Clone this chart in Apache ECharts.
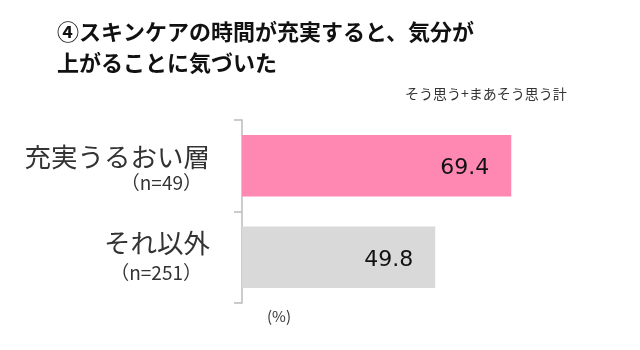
<!DOCTYPE html>
<html><head><meta charset="utf-8">
<script src="https://cdn.jsdelivr.net/npm/echarts@6/dist/echarts.min.js"></script>
<style>html,body{margin:0;padding:0;background:#fff}#c{width:640px;height:350px}</style>
</head><body><div id="c"></div>
<script>
const categories = ['充実うるおい層', 'それ以外'];
const sampleSizes = ['（n=49）', '（n=251）'];
const values = [69.4, 49.8];
const barColors = ['#FF88B3', '#D9D9D9'];
const titleText = '④スキンケアの時間が充実すると、気分が\n上がることに気づいた';
const subText = 'そう思う+まあそう思う計';

const font = '"Noto Sans CJK JP", "Noto Sans", sans-serif';
const chart = echarts.init(document.getElementById('c'));
chart.setOption({
  animation: false,
  textStyle: { fontFamily: font },
  title: [
    { text: titleText, left: 52, top: 11,
      textStyle: { fontSize: 22, fontWeight: 'bold', color: '#111', lineHeight: 31, fontFamily: font } },
    { text: subText, left: 400, top: 82,
      textStyle: { fontSize: 14, fontWeight: 'normal', color: '#333', fontFamily: font } },
    { text: '(%)', left: 262, top: 304,
      textStyle: { fontSize: 15, fontWeight: 'normal', color: '#333', fontFamily: font } }
  ],
  grid: { left: 242, right: 10, top: 120, height: 183, containLabel: false },
  xAxis: { type: 'value', min: 0, max: 100, show: false },
  yAxis: {
    type: 'category', inverse: true,
    data: categories.map((c, i) => c + '\n' + sampleSizes[i]),
    axisLine: { show: true, lineStyle: { color: '#BBBBBB', width: 1.5 } },
    axisTick: { show: true, length: 8, lineStyle: { color: '#BBBBBB', width: 1.5 } },
    axisLabel: {
      margin: 32,
      formatter: function (v, idx) {
        const p = v.split('\n');
        return '{' + (idx === 0 ? 'a0' : 'a') + '|' + p[0] + '}\n{b|' + p[1] + '}';
      },
      rich: {
        a0: { fontSize: 26.5, color: '#333', lineHeight: 34, align: 'right', padding: [11, 0, 0, 0], fontFamily: font },
        a: { fontSize: 26.5, color: '#333', lineHeight: 32, align: 'right', fontFamily: font },
        b: { fontSize: 19, color: '#333', lineHeight: 28, align: 'right', padding: [0, 8, 0, 0], fontFamily: font }
      }
    }
  },
  series: [{
    type: 'bar',
    data: values.map((v, i) => ({ value: v, itemStyle: { color: barColors[i] } })),
    barWidth: '67%',
    label: {
      show: true, position: 'insideRight', distance: 22, offset: [0, 3],
      formatter: p => p.value.toFixed(1),
      fontSize: 22, color: '#111', fontFamily: '"DejaVu Sans", sans-serif'
    }
  }]
});
</script></body></html>
